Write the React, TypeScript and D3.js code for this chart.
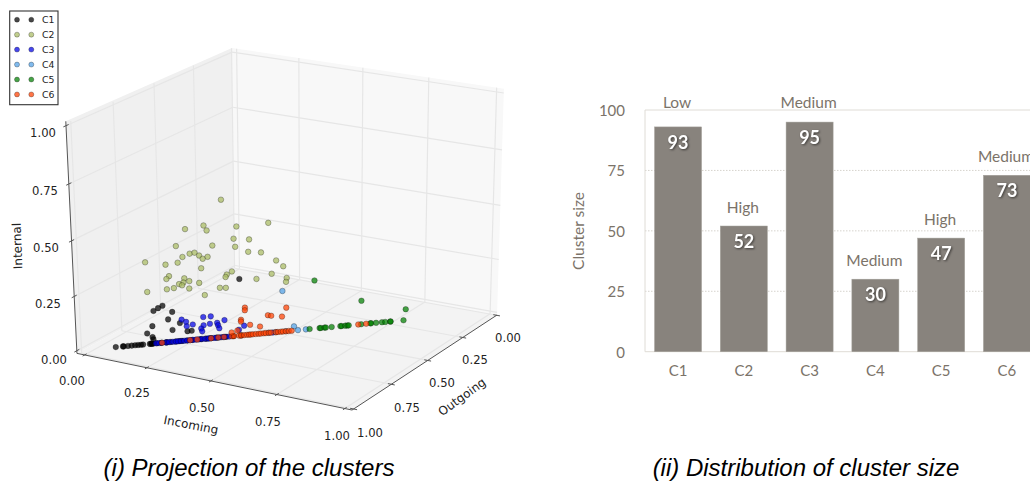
import React from "react";
import * as d3 from "d3";

// ---- bar chart data
const clusters = ["C1", "C2", "C3", "C4", "C5", "C6"];
const clusterSizes = [93, 52, 95, 30, 47, 73];
const clusterTiers = ["Low", "High", "Medium", "Medium", "High", "Medium"];
const sizeTicks = [0, 25, 50, 75, 100];

// ---- 3D scatter data: shares sum to one, so outgoing = 1 - incoming - internal.
// *Edge: incoming share of points with no internal traffic. *Raised: [incoming, internal].
const c1Edge = [.085, .102, .104, .114, .123, .131, .138, .145, .15, .166, .169, .171, .174, .183, .193, .205, .207, .216, .228, .236, .243, .255, .267, .288, .3, .312, .326, .348, .365, .384];
const c1Raised = [[.306, .192], [.146, .125], [.138, .118], [.13, .11], [.178, .101], [.177, .077], [.211, .061], [.146, .059], [.201, .04], [.24, .031], [.25, .031], [.142, .036], [.16, .022], [.165, .014]];
const c2Raised = [[.162, .468], [.108, .378], [.15, .385], [.164, .367], [.234, .372], [.31, .375], [.242, .331], [.282, .324], [.256, .303], [.197, .314], [.106, .323], [.15, .293], [.161, .295], [.176, .284], [.189, .272], [.199, .277], [.136, .284], [.131, .266], [.049, .277], [.103, .263], [.295, .282], [.328, .276], [.376, .244], [.401, .222], [.197, .24], [.278, .22], [.269, .211], [.269, .203], [.381, .2], [.349, .187], [.424, .181], [.427, .168], [.126, .223], [.123, .214], [.167, .211], [.183, .2], [.17, .197], [.161, .193], [.17, .188], [.21, .191], [.153, .181], [.137, .179], [.192, .175], [.268, .168], [.283, .166], [.091, .176], [.239, .148]];
const c3Edge = [.181, .188, .195, .205, .212, .221, .228, .233, .24, .248, .255, .262, .269, .276, .283, .29, .298, .305, .307, .312, .319, .324, .331, .336, .341, .345, .355, .46];
const c3Raised = [[.211, .072], [.225, .063], [.232, .048], [.245, .052], [.262, .074], [.28, .074], [.319, .057], [.273, .046], [.287, .049], [.304, .05], [.309, .042], [.316, .031], [.271, .036], [.277, .026], [.375, .032], [.367, .02]];
const c4Edge = [.45, .467, .491, .52, .539];
const c4Raised = [[.429, .138], [.501, .014]];
const c5Edge = [.548, .572, .575, .584, .587, .601, .622, .625, .634, .639, .642, .672, .694, .696, .708, .722, .73, .742, .743, .774];
const c5Raised = [[.497, .164], [.64, .08], [.762, .037]];
const c6Edge = [.195, .262, .279, .312, .329, .343, .362, .367, .379, .384, .391, .398, .403, .407, .412, .419, .426, .431, .438, .443, .45, .455, .467, .472, .479, .484, .491, .498, .505, .665, .684];
const c6Raised = [[.355, .093], [.358, .084], [.459, .08], [.422, .06], [.431, .057], [.459, .051], [.36, .053], [.362, .047], [.389, .033], [.416, .024], [.352, .013], [.364, .018]];

const seriesColors = ["#000000", "#a9bb62", "#0000e6", "#4f9fe6", "#008000", "#ff4000"];
const seriesEdge = [c1Edge, [] as number[], c3Edge, c4Edge, c5Edge, c6Edge];
const seriesRaised = [c1Raised, c2Raised, c3Raised, c4Raised, c5Raised, c6Raised];
const axisTicks = [0, 0.25, 0.5, 0.75, 1];
const incomingLabelPos = [[72, 381], [137, 393], [202, 408], [268, 422], [337, 436]];
const outgoingLabelPos = [[508, 338], [475, 360], [442, 383], [407, 408], [370, 433]];
const internalLabelPos = [[54, 360], [48, 304], [46, 248], [45, 191], [43, 133]];

// ---- perspective of the 3D box (pane coordinates 0..1)
function project(x: number, y: number, z: number): [number, number] {
  const w = 1 - 0.0556 * x - 0.0664 * y - 0.0448 * z;
  return [
    (234.4 * x - 160.3 * y - 13.4 * z + 235) / w - 3 * x * z,
    (29.5 * x + 62.5 * y - 222.2 * z + 268) / w + 5 * x * z,
  ];
}
const pointZ = d3.scaleLinear([0, 1], [0.012, 1.012]);
const edgeShift = -0.0045;
const tickX = d3.scaleLinear([0, 1], [0.018, 0.975]);
const tickY = d3.scaleLinear([0, 1], [0.003, 0.99]);
const tickZ = d3.scaleLinear([0, 1], [0.012, 0.982]);
const line3 = d3.line<number[]>().x((p) => project(p[0], p[1], p[2])[0]).y((p) => project(p[0], p[1], p[2])[1]);
const seg = (a: number[], b: number[]) => line3([a, b]) as string;
const quad = (pts: number[][]) => (line3(pts) as string) + "Z";

const GRID = "#e6e6e6";
const AXIS = "#555";
const TICK_FONT = "'DejaVu Sans', sans-serif";
const CHART_FONT = "Lato, sans-serif";
const WARM = "#7b7369";
const FRONT_X = -0.012;

function Scatter3D() {
  return (
    <g>
      <path d={quad([[0, 0, 0], [FRONT_X, 1, 0], [FRONT_X, 1, 1], [0, 0, 1]])} fill="#f0f0f0" />
      <path d={quad([[0, 0, 0], [1, 0, 0], [1, 0, 1], [0, 0, 1]])} fill="#f8f8f8" />
      <path d={quad([[0, 0, 0], [1, 0, 0], [1, 1, 0], [FRONT_X, 1, 0]])} fill="#f3f3f3" />
      <g stroke={GRID} strokeWidth={1.2} fill="none">
        {axisTicks.map((t) => (
          <g key={t}>
            <path d={seg([tickX(t), 1, 0], [tickX(t), 0, 0])} />
            <path d={seg([tickX(t), 0, 0], [tickX(t), 0, 1])} />
            <path d={seg([0, tickY(t), 0], [1, tickY(t), 0])} />
            <path d={seg([0, tickY(t), 0], [0, tickY(t), 1])} />
            <path d={seg([FRONT_X, 1, tickZ(t)], [0, 0, tickZ(t)])} />
            <path d={seg([0, 0, tickZ(t)], [1, 0, tickZ(t)])} />
          </g>
        ))}
      </g>
      <g stroke={AXIS} strokeWidth={1} fill="none">
        <path d={seg([FRONT_X, 1, 0], [1, 1, 0])} />
        <path d={seg([1, 1, 0], [1, 0, 0])} />
        <path d={seg([FRONT_X, 1, 0], [FRONT_X, 1, 1])} />
        {axisTicks.map((t) => (
          <g key={t}>
            <path d={seg([tickX(t), 0.988, 0], [tickX(t), 1.012, 0])} />
            <path d={seg([0.988, tickY(t), 0], [1.012, tickY(t), 0])} />
            <path d={seg([FRONT_X, 0.985, tickZ(t)], [FRONT_X, 1.015, tickZ(t)])} />
          </g>
        ))}
      </g>
      {seriesRaised.map((raised, i) => {
        const pts = [...seriesEdge[i].map((x) => [x + edgeShift, 0]), ...raised];
        return (
          <g key={i}>
            {pts.map(([x, z], j) => {
              const [cx, cy] = project(x, 1 - x - pointZ(z), pointZ(z));
              return (
                <circle key={j} cx={cx} cy={cy} r={2.8} fill={seriesColors[i]} fillOpacity={0.72}
                  stroke="#000" strokeOpacity={0.45} strokeWidth={0.6} />
              );
            })}
          </g>
        );
      })}
      <g fontFamily={TICK_FONT} fontSize={11.6} fill="#222" textAnchor="middle" dominantBaseline="central">
        {axisTicks.map((t, i) => (
          <g key={t}>
            <text x={incomingLabelPos[i][0]} y={incomingLabelPos[i][1]}>{d3.format(".2f")(t)}</text>
            <text x={outgoingLabelPos[i][0]} y={outgoingLabelPos[i][1]}>{d3.format(".2f")(t)}</text>
            <text x={internalLabelPos[i][0]} y={internalLabelPos[i][1]}>{d3.format(".2f")(t)}</text>
          </g>
        ))}
        <text transform="translate(191,425) rotate(11)" fontSize={12}>Incoming</text>
        <text transform="translate(462,397) rotate(-36)" fontSize={12}>Outgoing</text>
        <text transform="translate(17.5,246) rotate(-92)" fontSize={12}>Internal</text>
      </g>
      <rect x={9.7} y={11} width={48.3} height={93.7} fill="#fff" stroke="#333" strokeWidth={1.1} />
      {clusters.map((c, i) => {
        const y = 19.7 + i * 14.95;
        return (
          <g key={c}>
            {[17, 31.3].map((x) => (
              <circle key={x} cx={x} cy={y} r={2.5} fill={seriesColors[i]} fillOpacity={0.72}
                stroke="#000" strokeOpacity={0.45} strokeWidth={0.6} />
            ))}
            <text x={42} y={y} fontFamily={TICK_FONT} fontSize={9.3} fill="#222" dominantBaseline="central">{c}</text>
          </g>
        );
      })}
    </g>
  );
}

function Bars() {
  const x = d3.scaleBand<string>().domain(clusters).range([645, 1040]).paddingInner(0.285).paddingOuter(0.145);
  const y = d3.scaleLinear([0, 100], [351.7, 110]);
  const cx = (c: string) => (x(c) as number) + x.bandwidth() / 2;
  const tierY = (v: number) => (v > 90 ? 101.5 : y(v) - 19.5);
  return (
    <g fontFamily={CHART_FONT}>
      {[25, 50, 75].map((t) => (
        <line key={t} x1={645} x2={1030} y1={y(t)} y2={y(t)} stroke="#d6d3cd" strokeWidth={1} strokeDasharray="1.5 1.5" />
      ))}
      <path d={`M1030,${y(100)}H645V${y(0)}H1030`} fill="none" stroke="#dfdcd6" strokeWidth={1} />
      {sizeTicks.map((t) => (
        <text key={t} x={625} y={y(t)} textAnchor="end" dominantBaseline="central" fontSize={15} fill={WARM}>{t}</text>
      ))}
      <text transform="translate(578,231) rotate(-90)" textAnchor="middle" dominantBaseline="central" fontSize={15.5} fill={WARM}>Cluster size</text>
      {clusters.map((c, i) => (
        <g key={c}>
          <rect x={x(c)} y={y(clusterSizes[i])} width={x.bandwidth()} height={y(0) - y(clusterSizes[i])} fill="#88837d" stroke="#a3a09a" strokeWidth={0.5} />
          <text x={cx(c)} y={y(clusterSizes[i]) + 15} textAnchor="middle" dominantBaseline="central" fontSize={18} fontWeight={700} fill="#fff"
            style={{ filter: "drop-shadow(1px 1px 1px rgba(0,0,0,0.55))" }}>{clusterSizes[i]}</text>
          <text x={cx(c) - 1} y={tierY(clusterSizes[i])} textAnchor="middle" dominantBaseline="central" fontSize={15.5} fill={WARM}>{clusterTiers[i]}</text>
          <text x={cx(c)} y={370} textAnchor="middle" dominantBaseline="central" fontSize={15} fill={WARM}>{c}</text>
        </g>
      ))}
    </g>
  );
}

export default function App() {
  return (
    <svg width={1030} height={481} viewBox="0 0 1030 481" style={{ position: "absolute", left: 0, top: 0, display: "block", background: "#fff" }}>
      <Scatter3D />
      <Bars />
      <g fontFamily="'Liberation Sans', Arial, sans-serif" fontStyle="italic" fontSize={24} fill="#000" textAnchor="middle">
        <text x={249} y={476}>(i) Projection of the clusters</text>
        <text x={806} y={476}>(ii) Distribution of cluster size</text>
      </g>
    </svg>
  );
}
